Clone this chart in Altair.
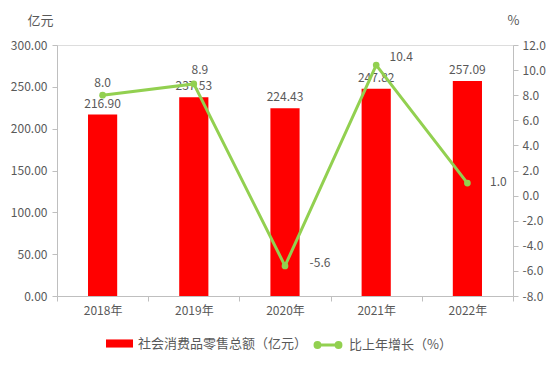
import altair as alt
import pandas as pd

years = ["2018年", "2019年", "2020年", "2021年", "2022年"]
sales = [216.90, 237.53, 224.43, 247.82, 257.09]
growth = [8.0, 8.9, -5.6, 10.4, 1.0]
bar_name = "社会消费品零售总额（亿元）"
line_name = "比上年增长（%）"
sales_ticks = [0, 50, 100, 150, 200, 250, 300]
growth_ticks = [-8, -6, -4, -2, 0, 2, 4, 6, 8, 10, 12]

# label offsets (style, not data)
growth_label_offsets = {
    "2018年": (0, -12),
    "2019年": (6, -14),
    "2020年": (35, -3),
    "2021年": (25, -8),
    "2022年": (31, -1),
}

df = pd.DataFrame({
    "year": years,
    "sales": sales,
    "growth": growth,
    "s1": [bar_name] * len(years),
    "s2": [line_name] * len(years),
})

FONT = "Noto Sans CJK SC"
TXT = "#595959"
AX = "#BFBFBF"
RED = "#FF0000"
GREEN = "#92D050"

x = alt.X(
    "year:N", sort=years, title=None,
    scale=alt.Scale(paddingInner=0, paddingOuter=0),
    axis=alt.Axis(labelAngle=0, tickBand="extent", domainColor=AX, tickColor=AX,
                  tickSize=5, labelPadding=4, labelColor=TXT, labelFontSize=12,
                  labelFont=FONT),
)

y_sales = alt.Y(
    "sales:Q", scale=alt.Scale(domain=[0, 300]),
    axis=alt.Axis(values=sales_ticks, format=".2f",
                  title="亿元", titleAngle=0, titleX=-17, titleY=-25,
                  titleAlign="center", titleBaseline="middle",
                  titleColor=TXT, titleFontSize=13, titleFont=FONT,
                  titleFontWeight="normal", labelOverlap=False,
                  domainColor=AX, tickColor=AX, tickSize=5, labelPadding=5,
                  labelColor=TXT, labelFontSize=12, labelFont=FONT, grid=False),
)

y_growth = alt.Y(
    "growth:Q", scale=alt.Scale(domain=[-8, 12]),
    axis=alt.Axis(values=growth_ticks, format=".1f",
                  orient="right", labelOverlap=False,
                  title="%", titleAngle=0, titleX=0, titleY=-25,
                  titleAlign="center", titleBaseline="middle",
                  titleColor=TXT, titleFontSize=13, titleFont=FONT,
                  titleFontWeight="normal",
                  domainColor=AX, tickColor=AX, tickSize=5, labelPadding=4,
                  labelColor=TXT, labelFontSize=12, labelFont=FONT, grid=False),
)

base = alt.Chart(df)

bars = base.mark_bar(width=alt.RelativeBandSize(0.32)).encode(
    x=x,
    y=y_sales,
    color=alt.Color("s1:N", scale=alt.Scale(range=[RED]),
                    legend=alt.Legend(orient="none", legendX=49, legendY=285, title=None,
                                      symbolType="M-1,-0.3H1V0.3H-1Z", symbolSize=729,
                                      symbolStrokeWidth=0, labelOffset=5, labelLimit=400,
                                      labelFontSize=13, labelColor=TXT, labelFont=FONT)),
)

bar_text = base.mark_text(dy=-11, baseline="middle", fontSize=12, font=FONT, color=TXT).encode(
    x=x,
    y=y_sales,
    text=alt.Text("sales:Q", format=".2f"),
)

bar_layer = alt.layer(bars, bar_text)

line_sym = ("M-1,0H1"
            "M-0.6,0A0.18,0.18,0,1,0,-0.96,0A0.18,0.18,0,1,0,-0.6,0"
            "M0.96,0A0.18,0.18,0,1,0,0.6,0A0.18,0.18,0,1,0,0.96,0")

line = base.mark_line(strokeWidth=3, point=alt.OverlayMarkDef(filled=True, size=45)).encode(
    x=x,
    y=y_growth,
    color=alt.Color("s2:N", scale=alt.Scale(range=[GREEN]),
                    legend=alt.Legend(orient="none", legendX=256, legendY=285, title=None,
                                      symbolType=line_sym, symbolSize=729,
                                      symbolStrokeWidth=3, symbolFillColor=GREEN,
                                      symbolStrokeColor=GREEN, labelOffset=6, labelLimit=400,
                                      labelFontSize=13, labelColor=TXT, labelFont=FONT)),
)

line_texts = []
for yr in years:
    dx, dy = growth_label_offsets[yr]
    line_texts.append(
        base.transform_filter(alt.datum.year == yr)
        .mark_text(dx=dx, dy=dy, baseline="middle", fontSize=12, font=FONT, color=TXT)
        .encode(
            x=x,
            y=y_growth,
            text=alt.Text("growth:Q", format=".1f"),
        )
    )

line_layer = alt.layer(line, *line_texts)

chart = (
    alt.layer(bar_layer, line_layer)
    .resolve_scale(y="independent", color="independent")
    .properties(
        width=456, height=251,
        autosize=alt.AutoSizeParams(type="none"),
        padding={"left": 49, "top": 37, "right": 37, "bottom": 62},
        background="white",
    )
    .configure_view(stroke=None)
    .configure(font=FONT, locale={"number": {"decimal": ".", "thousands": ",",
                                             "grouping": [3], "currency": ["", ""],
                                             "minus": "-"}})
)

chart.save("out.html", embed_options={"renderer": "svg", "actions": False})
